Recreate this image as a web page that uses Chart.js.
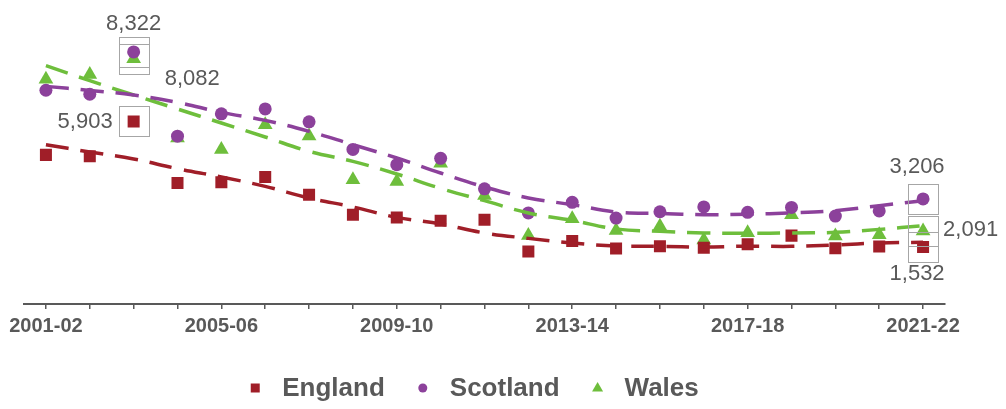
<!DOCTYPE html>
<html>
<head>
<meta charset="utf-8">
<script src="https://cdn.jsdelivr.net/npm/chart.js@4/dist/chart.umd.min.js"></script>
<style>
  html, body { margin: 0; padding: 0; background: #ffffff; }
  #wrap { width: 1006px; height: 409px; }
</style>
</head>
<body>
<div id="wrap"><canvas id="households-chart" width="1006" height="409"></canvas></div>
<script>
const years = [
  "2001-02", "2002-03", "2003-04", "2004-05", "2005-06", "2006-07", "2007-08",
  "2008-09", "2009-10", "2010-11", "2011-12", "2012-13", "2013-14", "2014-15",
  "2015-16", "2016-17", "2017-18", "2018-19", "2019-20", "2020-21", "2021-22"
]

const england  = [4740, 4690, 5903, 3760, 3790, 3970, 3350, 2660, 2560, 2450, 2480, 1380, 1740, 1480, 1560, 1510, 1630, 1930, 1490, 1550, 1532]
const scotland = [6990, 6850, 8322, 5390, 6170, 6340, 5890, 4930, 4400, 4620, 3560, 2720, 3090, 2540, 2760, 2930, 2740, 2910, 2610, 2790, 3206]
const wales    = [7370, 7540, 8082, 5330, 4930, 5790, 5400, 3870, 3810, 4450, 3330, 1930, 2520, 2110, 2260, 1780, 2030, 2660, 1920, 1960, 2091]

// dashed trend lines
const englandTrend  = [5095, 4841, 4597, 4260, 3971, 3644, 3240, 2927, 2565, 2335, 2022, 1834, 1674, 1569, 1556, 1535, 1563, 1556, 1604, 1674, 1695]
const scotlandTrend = [7124, 6984, 6824, 6567, 6219, 5940, 5558, 5095, 4632, 4110, 3623, 3240, 3007, 2753, 2704, 2659, 2676, 2718, 2798, 2972, 3146]
const walesTrend    = [7844, 7322, 6824, 6337, 5850, 5363, 4862, 4514, 4075, 3574, 3146, 2718, 2460, 2161, 2078, 2022, 2008, 2022, 2043, 2147, 2276]

const colors = { England: "#a01e28", Scotland: "#8c419b", Wales: "#6ebe3c" }
const textColor = "#595959"
const fontFamily = "'Liberation Sans', Arial, sans-serif"

// which points get a boxed value label, and where the text sits
const callouts = [
  { series: "Scotland", index: 2,  dx: 0,  dy: -28, align: "center" },
  { series: "Wales",    index: 2,  dx: 31, dy: 20,  align: "left" },
  { series: "England",  index: 2,  dx: -21, dy: 0,  align: "right" },
  { series: "Scotland", index: 20, dx: -6, dy: -32, align: "center" },
  { series: "Wales",    index: 20, dx: 20, dy: -1,  align: "left" },
  { series: "England",  index: 20, dx: -6, dy: 27,  align: "center" }
]

const pointSeries = function(label, values, style, radius) {
  return {
    type: "line",
    label: label,
    data: values,
    showLine: false,
    pointStyle: style,
    pointRadius: radius,
    pointBorderWidth: 0,
    pointBackgroundColor: colors[label],
    pointBorderColor: colors[label],
    order: 2
  }
}

const trendSeries = function(label, values) {
  return {
    type: "line",
    label: label + " trend",
    data: values,
    borderColor: colors[label],
    borderWidth: 3.5,
    borderDash: [23, 12],
    borderCapStyle: "butt",
    pointRadius: 0,
    tension: 0.4,
    fill: false,
    isTrend: true,
    order: 1
  }
}

const calloutPlugin = {
  id: "callouts",
  afterDatasetsDraw: function(chart) {
    const ctx = chart.ctx
    ctx.save()
    ctx.strokeStyle = "#a6a6a6"
    ctx.lineWidth = 1
    ctx.font = "22px " + fontFamily
    ctx.fillStyle = textColor
    ctx.textBaseline = "middle"
    callouts.forEach(function(c) {
      const di = chart.data.datasets.findIndex(function(d) { return d.label === c.series })
      const point = chart.getDatasetMeta(di).data[c.index]
      const value = chart.data.datasets[di].data[c.index]
      const x = Math.round(point.x) + 0.5
      const y = Math.round(point.y) + 0.5
      ctx.strokeRect(x - 15, y - 15, 30, 30)
      ctx.textAlign = c.align
      ctx.fillText(value.toLocaleString("en-GB"), point.x + c.dx, point.y + c.dy)
    })
    ctx.restore()
  }
}

const legendPlugin = {
  id: "markerLegend",
  afterDraw: function(chart) {
    const ctx = chart.ctx
    const items = chart.data.datasets.filter(function(d) { return !d.isTrend })
    ctx.save()
    ctx.font = "bold 26px " + fontFamily
    ctx.textBaseline = "middle"
    ctx.textAlign = "left"
    const markerGap = 27
    const itemGap = 38
    const widths = items.map(function(d) { return ctx.measureText(d.label).width })
    const total = widths.reduce(function(a, w) { return a + markerGap + w }, 0) + itemGap * (items.length - 1)
    let x = 475 - total / 2 + 2
    const y = 388
    items.forEach(function(d, i) {
      ctx.fillStyle = colors[d.label]
      ctx.beginPath()
      if (d.pointStyle === "rect") {
        ctx.rect(x - 4.5, y - 4.5, 9, 9)
      } else if (d.pointStyle === "circle") {
        ctx.arc(x, y, 4.5, 0, Math.PI * 2)
      } else {
        ctx.moveTo(x, y - 6)
        ctx.lineTo(x + 5.5, y + 3.5)
        ctx.lineTo(x - 5.5, y + 3.5)
        ctx.closePath()
      }
      ctx.fill()
      ctx.fillStyle = textColor
      ctx.fillText(d.label, x + markerGap, y + 1)
      x += markerGap + widths[i] + itemGap
    })
    ctx.restore()
  }
}

new Chart(document.getElementById("households-chart"), {
  data: {
    labels: years,
    datasets: [
      pointSeries("England", england, "rect", 8.5),
      pointSeries("Scotland", scotland, "circle", 6.5),
      pointSeries("Wales", wales, "triangle", 8.5),
      trendSeries("England", englandTrend),
      trendSeries("Scotland", scotlandTrend),
      trendSeries("Wales", walesTrend)
    ]
  },
  options: {
    responsive: false,
    animation: false,
    layout: { padding: { top: 20, left: 24, right: 61, bottom: 66 } },
    plugins: {
      legend: { display: false },
      tooltip: { enabled: false }
    },
    scales: {
      x: {
        offset: true,
        grid: {
          offset: false,
          drawOnChartArea: false,
          tickLength: 5,
          color: textColor,
          lineWidth: 1.5
        },
        border: { display: true, color: textColor, width: 2 },
        ticks: {
          autoSkip: false,
          maxRotation: 0,
          padding: 5,
          color: textColor,
          font: { family: fontFamily, size: 20, weight: "bold" },
          callback: function(value, index) {
            return index % 4 === 0 ? years[index] : ""
          }
        }
      },
      y: {
        display: false,
        min: -450,
        max: 9434
      }
    }
  },
  plugins: [calloutPlugin, legendPlugin]
})
</script>
</body>
</html>
